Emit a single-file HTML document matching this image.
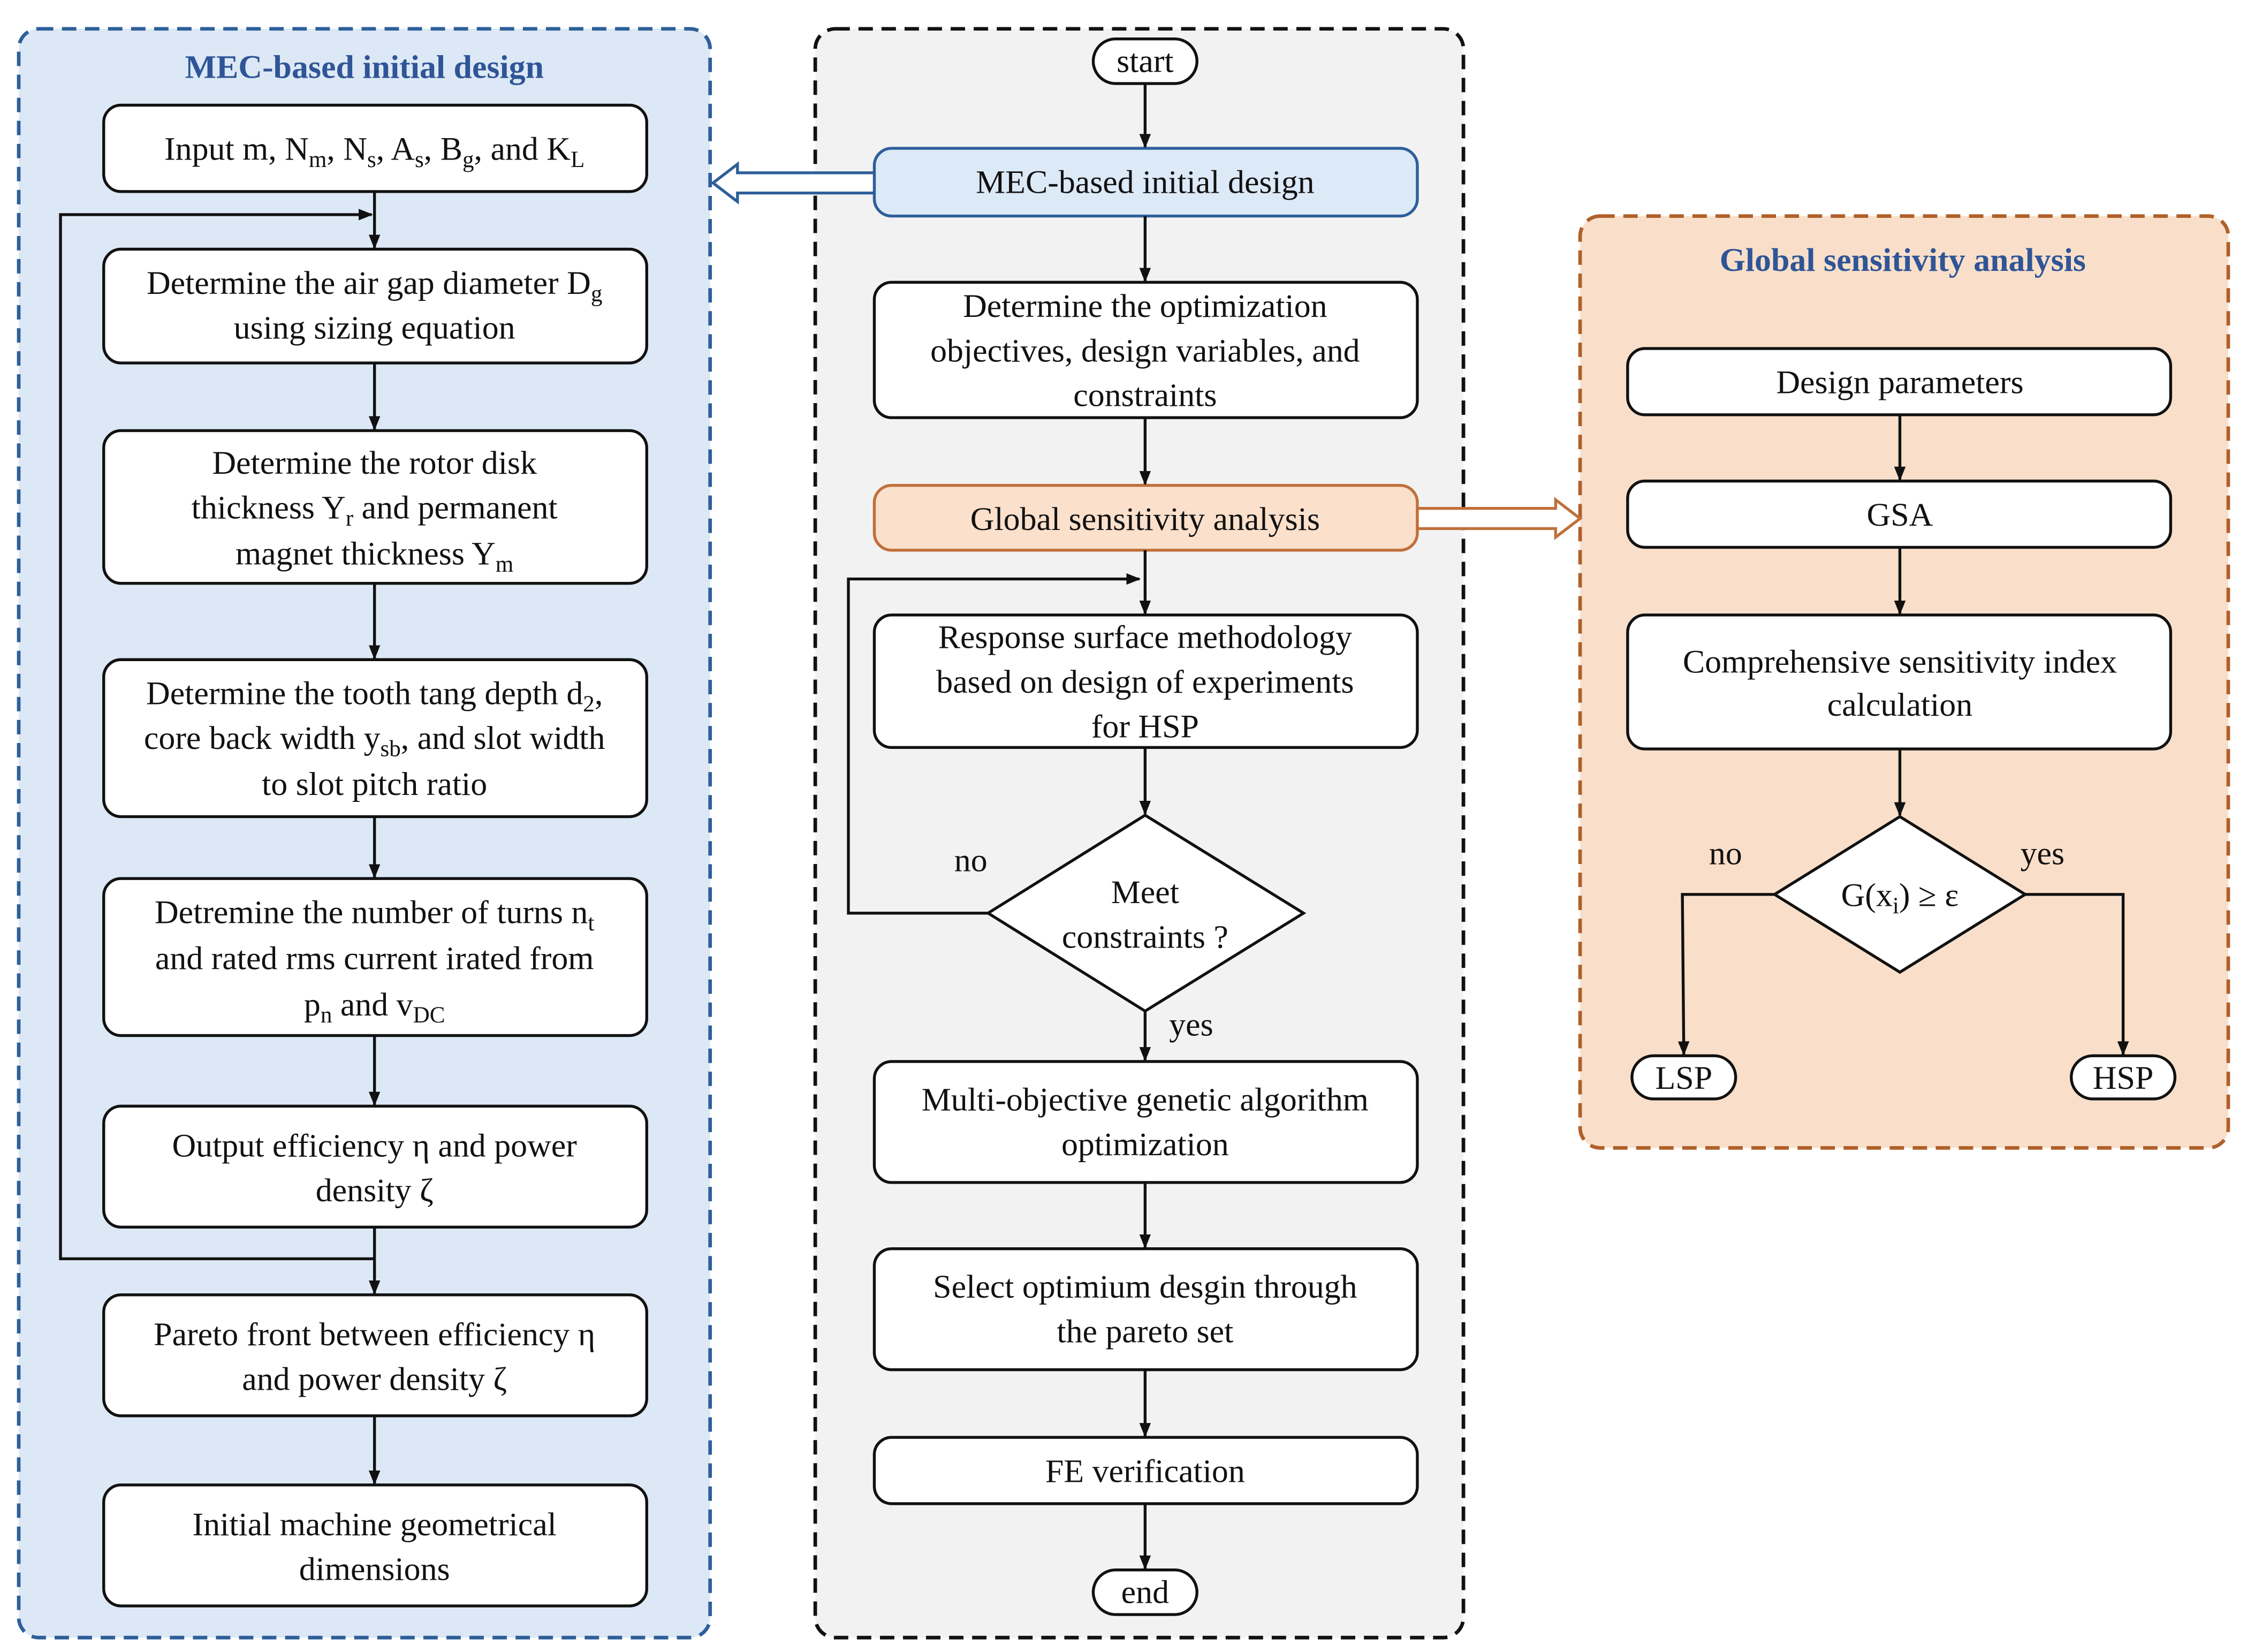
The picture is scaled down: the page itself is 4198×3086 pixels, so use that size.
<!DOCTYPE html>
<html><head><meta charset="utf-8"><style>
html,body{margin:0;padding:0;background:#fff}
svg{display:block}
text{font-family:"Liberation Serif",serif;font-size:23px;fill:#111;text-anchor:middle}
.t{fill:#2f5597;font-weight:bold;font-size:23px}
.b{fill:#fff;stroke:#111;stroke-width:2}
.l{stroke:#111;stroke-width:2;fill:none}
</style></head><body>
<svg width="4198" height="3086" viewBox="0 0 1560 1147" preserveAspectRatio="none" xmlns="http://www.w3.org/2000/svg">
<defs>
<marker id="a" markerWidth="10" markerHeight="10" refX="9" refY="5" orient="auto" markerUnits="userSpaceOnUse"><path d="M0,1 L10,5 L0,9 z" fill="#111"/></marker>
</defs>
<!-- panels -->
<rect x="13" y="20" width="480" height="1117" rx="14" fill="#dce8f5" stroke="#2e5f9a" stroke-width="2.5" stroke-dasharray="10,6"/>
<rect x="566" y="20" width="450" height="1117" rx="14" fill="#f2f2f2" stroke="#111" stroke-width="2.5" stroke-dasharray="10,6"/>
<rect x="1097" y="150" width="450" height="647" rx="14" fill="#f9dfca" stroke="#b0602a" stroke-width="2.5" stroke-dasharray="10,6"/>

<text class="t" x="253" y="54">MEC-based initial design</text>
<text class="t" x="1321" y="188">Global sensitivity analysis</text>

<!-- left boxes -->
<rect class="b" x="72" y="73" width="377" height="60" rx="12"/>
<text x="260" y="111">Input m, N<tspan font-size="16" dy="5">m</tspan><tspan dy="-5">, N</tspan><tspan font-size="16" dy="5">s</tspan><tspan dy="-5">, A</tspan><tspan font-size="16" dy="5">s</tspan><tspan dy="-5">, B</tspan><tspan font-size="16" dy="5">g</tspan><tspan dy="-5">, and K</tspan><tspan font-size="16" dy="5">L</tspan></text>
<rect class="b" x="72" y="173" width="377" height="79" rx="12"/>
<text x="260" y="204">Determine the air gap diameter D<tspan font-size="16" dy="5">g</tspan></text>
<text x="260" y="235">using sizing equation</text>
<rect class="b" x="72" y="299" width="377" height="106" rx="12"/>
<text x="260" y="329">Determine the rotor disk</text>
<text x="260" y="360">thickness Y<tspan font-size="16" dy="5">r</tspan><tspan dy="-5"> and permanent</tspan></text>
<text x="260" y="392">magnet thickness Y<tspan font-size="16" dy="5">m</tspan></text>
<rect class="b" x="72" y="458" width="377" height="109" rx="12"/>
<text x="260" y="489">Determine the tooth tang depth d<tspan font-size="16" dy="5">2</tspan><tspan dy="-5">,</tspan></text>
<text x="260" y="520">core back width y<tspan font-size="16" dy="5">sb</tspan><tspan dy="-5">, and slot width</tspan></text>
<text x="260" y="552">to slot pitch ratio</text>
<rect class="b" x="72" y="610" width="377" height="109" rx="12"/>
<text x="260" y="641">Detremine the number of turns n<tspan font-size="16" dy="5">t</tspan></text>
<text x="260" y="673">and rated rms current irated from</text>
<text x="260" y="705">p<tspan font-size="16" dy="5">n</tspan><tspan dy="-5"> and v</tspan><tspan font-size="16" dy="5">DC</tspan></text>
<rect class="b" x="72" y="768" width="377" height="84" rx="12"/>
<text x="260" y="803">Output efficiency η and power</text>
<text x="260" y="834">density ζ</text>
<rect class="b" x="72" y="899" width="377" height="84" rx="12"/>
<text x="260" y="934">Pareto front between efficiency η</text>
<text x="260" y="965">and power density ζ</text>
<rect class="b" x="72" y="1031" width="377" height="84" rx="12"/>
<text x="260" y="1066">Initial machine geometrical</text>
<text x="260" y="1097">dimensions</text>
<!-- left arrows -->
<line class="l" x1="260" y1="133" x2="260" y2="172" marker-end="url(#a)"/>
<line class="l" x1="260" y1="252" x2="260" y2="298" marker-end="url(#a)"/>
<line class="l" x1="260" y1="405" x2="260" y2="457" marker-end="url(#a)"/>
<line class="l" x1="260" y1="567" x2="260" y2="609" marker-end="url(#a)"/>
<line class="l" x1="260" y1="719" x2="260" y2="767" marker-end="url(#a)"/>
<line class="l" x1="260" y1="852" x2="260" y2="898" marker-end="url(#a)"/>
<line class="l" x1="260" y1="983" x2="260" y2="1030" marker-end="url(#a)"/>
<polyline class="l" points="260,874 42,874 42,149 258,149" marker-end="url(#a)"/>

<!-- center -->
<rect class="b" x="759" y="27" width="72" height="31" rx="15.5"/>
<text x="795" y="50">start</text>
<rect x="607" y="103" width="377" height="47" rx="12" fill="#dce9f7" stroke="#2e5f9a" stroke-width="2"/>
<text x="795" y="134">MEC-based initial design</text>
<path d="M607,120 L512,120 L512,114 L495,127 L512,140 L512,134 L607,134 Z" fill="#fff" stroke="#2e5f9a" stroke-width="2"/>
<rect class="b" x="607" y="196" width="377" height="94" rx="12"/>
<text x="795" y="220">Determine the optimization</text>
<text x="795" y="251">objectives, design variables, and</text>
<text x="795" y="282">constraints</text>
<rect x="607" y="337" width="377" height="45" rx="12" fill="#fbe0cc" stroke="#c0703a" stroke-width="2"/>
<text x="795" y="368">Global sensitivity analysis</text>
<path d="M984,353 L1080,353 L1080,347 L1097,360 L1080,373 L1080,367 L984,367 Z" fill="#fff" stroke="#c0703a" stroke-width="2"/>
<rect class="b" x="607" y="427" width="377" height="92" rx="12"/>
<text x="795" y="450">Response surface methodology</text>
<text x="795" y="481">based on design of experiments</text>
<text x="795" y="512">for HSP</text>
<polygon class="b" points="795,566 905,634 795,702 686,634"/>
<text x="795" y="627">Meet</text>
<text x="795" y="658">constraints ?</text>
<text x="674" y="605">no</text>
<text x="827" y="719">yes</text>
<rect class="b" x="607" y="737" width="377" height="84" rx="12"/>
<text x="795" y="771">Multi-objective genetic algorithm</text>
<text x="795" y="802">optimization</text>
<rect class="b" x="607" y="867" width="377" height="84" rx="12"/>
<text x="795" y="901">Select optimium desgin through</text>
<text x="795" y="932">the pareto set</text>
<rect class="b" x="607" y="998" width="377" height="46" rx="12"/>
<text x="795" y="1029">FE verification</text>
<rect class="b" x="759" y="1090" width="72" height="31" rx="15.5"/>
<text x="795" y="1113">end</text>
<line class="l" x1="795" y1="58" x2="795" y2="102" marker-end="url(#a)"/>
<line class="l" x1="795" y1="150" x2="795" y2="195" marker-end="url(#a)"/>
<line class="l" x1="795" y1="290" x2="795" y2="336" marker-end="url(#a)"/>
<line class="l" x1="795" y1="382" x2="795" y2="426" marker-end="url(#a)"/>
<line class="l" x1="795" y1="519" x2="795" y2="565" marker-end="url(#a)"/>
<line class="l" x1="795" y1="702" x2="795" y2="736" marker-end="url(#a)"/>
<line class="l" x1="795" y1="821" x2="795" y2="866" marker-end="url(#a)"/>
<line class="l" x1="795" y1="951" x2="795" y2="997" marker-end="url(#a)"/>
<line class="l" x1="795" y1="1044" x2="795" y2="1089" marker-end="url(#a)"/>
<polyline class="l" points="686,634 589,634 589,402 791,402" marker-end="url(#a)"/>

<!-- right -->
<rect class="b" x="1130" y="242" width="377" height="46" rx="12"/>
<text x="1319" y="273">Design parameters</text>
<rect class="b" x="1130" y="334" width="377" height="46" rx="12"/>
<text x="1319" y="365">GSA</text>
<rect class="b" x="1130" y="427" width="377" height="93" rx="12"/>
<text x="1319" y="467">Comprehensive sensitivity index</text>
<text x="1319" y="497">calculation</text>
<polygon class="b" points="1319,567 1406,621 1319,675 1232,621"/>
<text x="1319" y="629">G(x<tspan font-size="16" dy="5">i</tspan><tspan dy="-5">) ≥ ε</tspan></text>
<text x="1198" y="600">no</text>
<text x="1418" y="600">yes</text>
<rect class="b" x="1133" y="733" width="72" height="30" rx="15"/>
<text x="1169" y="756">LSP</text>
<rect class="b" x="1438" y="733" width="72" height="30" rx="15"/>
<text x="1474" y="756">HSP</text>
<line class="l" x1="1319" y1="288" x2="1319" y2="333" marker-end="url(#a)"/>
<line class="l" x1="1319" y1="380" x2="1319" y2="426" marker-end="url(#a)"/>
<line class="l" x1="1319" y1="520" x2="1319" y2="566" marker-end="url(#a)"/>
<polyline class="l" points="1232,621 1168,621 1169,732" marker-end="url(#a)"/>
<polyline class="l" points="1406,621 1474,621 1474,732" marker-end="url(#a)"/>
</svg>
</body></html>
